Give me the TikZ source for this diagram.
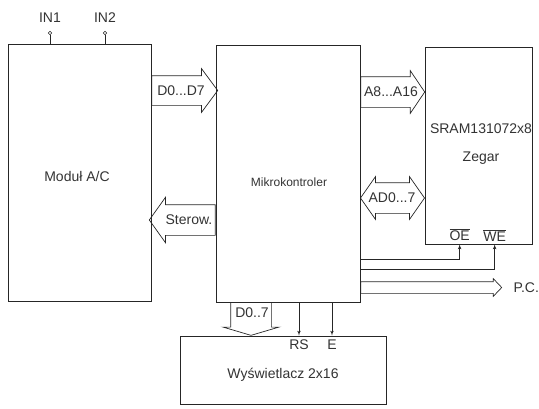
\documentclass[tikz,border=0pt]{standalone}
\usepackage{fontspec}
\setmainfont{Liberation Sans}
\usetikzlibrary{shapes,arrows,positioning,calc}

\begin{document}
\begin{tikzpicture}[
    x=1pt, y=-1pt,
    font=\fontsize{14}{16}\selectfont,
    line width=0.7pt, draw=black!85,
    block/.style={rectangle, draw, inner sep=0pt},
    bus/.style={single arrow, draw, anchor=tail},
    dbus/.style={double arrow, draw},
    pinend/.style={circle, draw, inner sep=0pt, minimum size=3.5pt},
    arrow/.style={->, >=latex'},
    txt/.style={inner sep=0pt, text=black!80}
]
    \useasboundingbox (0,0) rectangle (539,408);

    % blocks
    \node[block, minimum width=143pt, minimum height=257pt] (mod) at (79.5,172.5) {};
    \node[block, minimum width=144pt, minimum height=257pt] (mcu) at (288,173.5) {};
    \node[block, minimum width=107pt, minimum height=197pt] (sram) at (478.5,145.5) {};
    \node[block, minimum width=206pt, minimum height=68pt] (disp) at (283,370) {};

    \node[txt] (modtxt) at (77,176) {Moduł A/C};
    \node[txt, font=\fontsize{12}{14}\selectfont] (mcutxt) at (289,182) {Mikrokontroler};
    \node[txt, align=center, font=\fontsize{14}{28}\selectfont] (sramtxt) at (481,144) {SRAM131072x8\\Zegar};
    \node[txt] (disptxt) at (283,375) {Wyświetlacz 2x16};

    % analog inputs
    \node[pinend] (in1) at (50,33) {};
    \node[pinend] (in2) at (105,33) {};
    \draw (in1) -- (in1 |- mod.north);
    \draw (in2) -- (in2 |- mod.north);
    \node[txt, above=8pt of in1] (in1txt) {IN1};
    \node[txt, above=8pt of in2] (in2txt) {IN2};

    % buses
    \node[bus, inner sep=14.5pt, minimum height=66pt, single arrow head extend=7pt, single arrow tip angle=107] (dat) at (mod.east |- 0,90.5) {};
    \node[txt] (dattxt) at (181,91) {D0...D7};
    \node[bus, shape border rotate=180, inner sep=15pt, minimum height=66pt, single arrow head extend=7.5pt, single arrow tip angle=109] (ster) at (mcu.west |- 0,220) {};
    \node[txt] (stertxt) at (189,220) {Sterow.};
    \node[bus, inner sep=15pt, minimum height=64pt, single arrow head extend=6pt, single arrow tip angle=112] (adr) at (mcu.east |- 0,92) {};
    \node[txt] (adrtxt) at (391,92) {A8...A16};
    \node[dbus, inner sep=15pt, minimum height=64pt, double arrow head extend=6pt, double arrow tip angle=110] (ad) at (392.5,198) {};
    \node[txt] (adtxt) at (392,198) {AD0...7};
    \node[bus, inner sep=5.5pt, minimum height=141pt, single arrow head extend=3pt, single arrow tip angle=93] (pc) at (mcu.east |- 0,287.5) {};
    \node[txt, right=11pt of pc.tip] (pctxt) {P.C.};
    \node[bus, shape border rotate=270, inner xsep=20pt, inner ysep=0pt, minimum height=33pt, single arrow head extend=7.5pt, single arrow tip angle=147] (lcd) at (251,302) {};
    \node[txt] (lcdtxt) at (252,313) {D0..7};

    % control lines
    \coordinate (oe) at ([xshift=35pt]sram.south west);
    \coordinate (we) at ([xshift=70pt]sram.south west);
    \draw[arrow] (mcu.east |- 0,259) -| (oe);
    \draw[arrow] (mcu.east |- 0,269) -| (we);
    \node[txt, above=3pt of oe] (oetxt) {$\overline{\hbox{OE}}$};
    \node[txt, above=3pt of we] (wetxt) {$\overline{\hbox{WE}}$};

    \coordinate (rs) at (disp.north -| 299,0);
    \coordinate (en) at (disp.north -| 332,0);
    \draw[arrow] (mcu.south -| rs) -- (rs);
    \draw[arrow] (mcu.south -| en) -- (en);
    \node[txt, below=4pt of rs] (rstxt) {RS};
    \node[txt, below=4pt of en] (entxt) {E};
\end{tikzpicture}
\end{document}
